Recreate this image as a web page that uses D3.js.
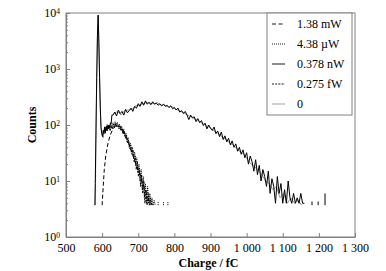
<!DOCTYPE html>
<html>
<head>
<meta charset="utf-8">
<script src="https://cdn.jsdelivr.net/npm/d3@7"></script>
<style>
	body { margin: 0; background: #fff; }
	svg { display: block; font-family: "Liberation Serif", "DejaVu Serif", serif; }
	.axis path, .axis line { stroke: #808080; }
	.axis text { fill: #000; font-size: 12px; font-family: "Liberation Serif", serif; }
</style>
</head>
<body>
<div id="chart"></div>
<script>

// Legend entries (order as in the legend box)
const seriesNames = ["1.38 mW", "4.38 \u00b5W", "0.378 nW", "0.275 fW", "0"];

const xTicks = [500, 600, 700, 800, 900, 1000, 1100, 1200, 1300];
const yTicks = [1, 10, 100, 1000, 10000];

// 1.38 mW - smooth dashed hump
const chargeMw = [600, 603, 606, 610, 614, 618, 622, 628, 634, 641, 648, 655, 662, 670, 677, 684, 691, 698, 705, 712, 719, 726, 733, 740];
const countsMw = [3.7, 8, 16, 28, 40, 52, 65, 80, 92, 100, 95, 85, 70, 55, 40, 30, 22, 17, 13, 9, 7, 5, 4.2, 3.7];

// 4.38 uW - noisy low hump (0 = empty bin)
const chargeUw = [603, 606, 609, 612, 615, 618, 621, 624, 627, 630, 633, 636, 639, 642, 645, 648, 651, 654, 657, 660,
	663, 666, 669, 672, 675, 678, 681, 684, 687, 690, 693, 696, 699, 702, 705, 708, 711, 714, 717, 720,
	723, 726, 729, 732, 735, 738, 741, 744, 747, 750, 755, 755, 758, 770, 770, 773, 782, 782];
const countsUw = [60, 85, 70, 95, 78, 100, 82, 105, 88, 110, 92, 115, 95, 112, 90, 105, 82, 95, 72, 85,
	62, 72, 50, 60, 40, 48, 32, 40, 25, 33, 19, 26, 14, 20, 10, 16, 7, 12, 5, 9,
	4, 8, 4, 6, 3.7, 5, 3.7, 4.5, 3.7, 0, 3.7, 4.2, 0, 3.7, 4.2, 0, 3.7, 4.2];

// 0.378 nW - spike plus the broad distribution
const chargeNw = [580, 581, 583, 585, 587, 589, 591, 593, 595, 597, 599, 601, 603, 605, 607, 609, 611, 613, 615, 617,
	619, 621, 623, 625, 627, 630, 635, 640, 645, 650, 655, 660, 665, 670, 675, 680, 685, 690, 695, 700,
	705, 710, 715, 720, 725, 730, 735, 740, 745, 750, 755, 760, 765, 770, 775, 780, 785, 790, 795, 800,
	805, 810, 815, 820, 825, 830, 835, 840, 845, 850, 855, 860, 865, 870, 875, 880, 885, 890, 895, 900,
	905, 910, 915, 920, 925, 930, 935, 940, 945, 950, 955, 960, 965, 970, 975, 980, 985, 990, 995, 1000,
	1005, 1010, 1015, 1020, 1025, 1030, 1035, 1040, 1045, 1050, 1055, 1060, 1065, 1070, 1075, 1080, 1085, 1090, 1095, 1100,
	1105, 1110, 1115, 1120, 1125, 1130, 1135, 1140, 1145, 1150, 1155, 1160, 1163, 1181, 1181, 1184, 1198, 1198, 1201, 1217, 1217];
const countsNw = [3.7, 9, 80, 700, 4000, 9200, 3000, 700, 200, 90, 70, 62, 80, 70, 88, 75, 92, 80, 95, 85,
	100, 90, 110, 105, 150, 150, 170, 145, 185, 160, 175, 150, 190, 165, 180, 200, 175, 215, 200, 240,
	215, 260, 225, 270, 235, 255, 230, 260, 235, 245, 225, 240, 220, 235, 215, 225, 205, 220, 195, 205,
	185, 200, 170, 180, 160, 175, 150, 125, 150, 135, 140, 115, 130, 110, 120, 98, 108, 85, 100, 88,
	80, 92, 70, 78, 62, 75, 55, 64, 50, 58, 44, 52, 40, 46, 34, 40, 30, 36, 26, 32,
	20, 28, 22, 15, 24, 13, 19, 10, 16, 12, 8, 15, 6, 11, 8, 4, 12, 6, 9, 4,
	7, 4, 10, 5, 4, 6, 4, 5, 4, 6, 4, 4, 0, 3.7, 4.3, 0, 3.7, 4.3, 0, 3.7, 6];

// 0.275 fW - second noisy low hump
const chargeFw = [604.5, 607.5, 610.5, 613.5, 616.5, 619.5, 622.5, 625.5, 628.5, 631.5, 634.5, 637.5, 640.5, 643.5, 646.5,
	649.5, 652.5, 655.5, 658.5, 661.5, 664.5, 667.5, 670.5, 673.5, 676.5, 679.5, 682.5, 685.5, 688.5, 691.5,
	694.5, 697.5, 700.5, 703.5, 706.5, 709.5, 712.5, 715.5, 718.5, 721.5, 724.5, 727.5, 730.5, 733.5, 736.5];
const countsFw = [75, 95, 80, 102, 85, 98, 80, 96, 84, 104, 90, 108, 92, 100, 85,
	96, 78, 88, 68, 78, 58, 66, 48, 54, 38, 44, 30, 36, 22, 28,
	16, 22, 12, 17, 8, 13, 6, 10, 4, 7, 3.7, 6, 3.7, 5, 3.7];

// 0 - reference spike, then a gray copy of the broad distribution
const chargeZero = [581, 583, 585, 587, 589, 591, 593, 595, 597, 600, 610,
	632.5, 642.5, 652.5, 662.5, 672.5, 682.5, 692.5, 702.5, 712.5, 722.5, 732.5, 742.5, 752.5, 762.5, 772.5, 782.5, 792.5, 802.5,
	812.5, 822.5, 832.5, 842.5, 852.5, 862.5, 872.5, 882.5, 892.5, 902.5, 912.5, 922.5, 932.5, 942.5, 952.5, 962.5, 972.5, 982.5,
	992.5, 1002.5, 1012.5, 1022.5, 1032.5, 1042.5, 1052.5, 1062.5, 1072.5, 1082.5, 1092.5, 1102.5, 1112.5, 1122.5, 1132.5, 1142.5, 1152.5];
const countsZero = [3.7, 60, 600, 3500, 8800, 2800, 650, 180, 85, 70, 0,
	160, 175, 150, 180, 185, 190, 220, 225, 240, 250, 245, 240, 250, 225, 230, 210, 215, 195,
	180, 170, 155, 145, 130, 125, 112, 102, 95, 85, 76, 70, 60, 56, 48, 44, 38, 33,
	30, 24, 20, 18, 15, 13, 10, 9, 7, 8, 5, 6, 4, 5, 4, 4.5, 3.7];

const seriesData = [
	{name: seriesNames[0], charge: chargeMw, counts: countsMw, color: "#000", dash: "4,2.5"},
	{name: seriesNames[1], charge: chargeUw, counts: countsUw, color: "#000", dash: "1,1"},
	{name: seriesNames[2], charge: chargeNw, counts: countsNw, color: "#000", dash: null},
	{name: seriesNames[3], charge: chargeFw, counts: countsFw, color: "#000", dash: "2,1.2"},
	{name: seriesNames[4], charge: chargeZero, counts: countsZero, color: "#999", dash: null}
];

const W = 386, H = 271;
const margin = {top: 13, right: 31, bottom: 34, left: 66};
const width = W - margin.left - margin.right;
const height = H - margin.top - margin.bottom;

const svg = d3.select("#chart").append("svg")
	.attr("width", W)
	.attr("height", H);

const g = svg.append("g")
	.attr("transform", `translate(${margin.left},${margin.top})`);

const x = d3.scaleLinear().domain([500, 1300]).range([0, width]);
const y = d3.scaleLog().domain([1, 10000]).range([height, 0]);

// frame
g.append("rect")
	.attr("width", width)
	.attr("height", height)
	.attr("fill", "none")
	.attr("stroke", "#808080");

// x axis, ticks pointing inward
const fmt = v => v >= 1000 ? Math.floor(v / 1000) + " " + String(v % 1000).padStart(3, "0") : String(v);
const xAxis = d3.axisBottom(x)
	.tickValues(xTicks)
	.tickSizeInner(-4)
	.tickSizeOuter(0)
	.tickPadding(6)
	.tickFormat(fmt);
g.append("g")
	.attr("class", "axis x-axis")
	.attr("transform", `translate(0,${height})`)
	.call(xAxis);

// y axis: majors with labels, minors without
let minor = [];
for (let e = 0; e < 4; e++) {
	for (let k = 2; k <= 9; k++) minor.push(k * Math.pow(10, e));
}
g.append("g")
	.attr("class", "axis y-minor")
	.call(d3.axisLeft(y).tickValues(minor).tickSizeInner(-2).tickSizeOuter(0).tickFormat(""));

const yAxis = g.append("g")
	.attr("class", "axis y-axis")
	.call(d3.axisLeft(y).tickValues(yTicks).tickSizeInner(-4).tickSizeOuter(0).tickPadding(6).tickFormat(""));

yAxis.selectAll(".tick").each(function (d) {
	let t = d3.select(this).append("text")
		.attr("x", -6)
		.attr("dy", "0.32em")
		.attr("text-anchor", "end")
		.style("font-size", "12px");
	t.append("tspan").text("10");
	t.append("tspan")
		.attr("dy", "-0.45em")
		.style("font-size", "7.5px")
		.text(Math.round(Math.log10(d)));
});

// axis titles
g.append("text")
	.attr("transform", `translate(${width / 2 - 2},${height + 30})`)
	.attr("text-anchor", "middle")
	.style("font-size", "12px")
	.style("font-weight", "bold")
	.text("Charge / fC");

g.append("text")
	.attr("transform", `translate(-30,${height / 2}) rotate(-90)`)
	.attr("text-anchor", "middle")
	.style("font-size", "12px")
	.style("font-weight", "bold")
	.text("Counts");

// curves (drawn back to front)
const line = d3.line()
	.defined(d => d.n > 0)
	.x(d => x(d.c))
	.y(d => y(d.n));

const drawOrder = [4, 0, 3, 1, 2];
drawOrder.forEach(i => {
	let s = seriesData[i];
	let pts = s.charge.map((c, j) => ({c: c, n: s.counts[j]}));
	g.append("path")
		.datum(pts)
		.attr("fill", "none")
		.attr("stroke", s.color)
		.attr("stroke-width", 1)
		.attr("stroke-dasharray", s.dash)
		.attr("d", line);
});

// legend
const legend = g.append("g")
	.attr("class", "legend")
	.attr("transform", `translate(${width - 88},0)`);

legend.append("rect")
	.attr("width", 85)
	.attr("height", 102)
	.attr("fill", "#fff")
	.attr("stroke", "#808080");

seriesData.forEach((s, i) => {
	let row = legend.append("g")
		.attr("transform", `translate(0,${11 + i * 20})`);
	row.append("line")
		.attr("x1", 5)
		.attr("x2", 18)
		.attr("stroke", s.color)
		.attr("stroke-width", 0.9)
		.attr("stroke-dasharray", s.dash);
	row.append("text")
		.attr("x", 30)
		.attr("dy", "0.35em")
		.style("font-size", "12px")
		.text(s.name);
});

</script>
</body>
</html>
